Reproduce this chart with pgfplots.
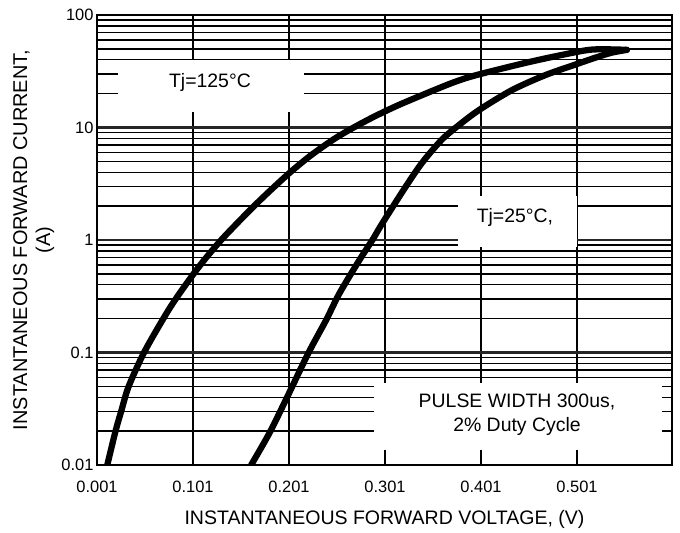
\documentclass[border=0pt]{standalone}
\usepackage{fontspec}
\setmainfont{Liberation Sans}
\usepackage{pgfplots}
\pgfplotsset{compat=1.18}

\begin{document}
\begin{tikzpicture}
  % page size: 680 x 533, axis box 575 x 450
  \path[use as bounding box] (-97bp,-68bp) rectangle (583bp,465bp);
  \begin{axis}[
    scale only axis,
    width=575bp, height=450bp,
    ymode=log,
    xmin=0.001, xmax=0.6,
    ymin=0.01, ymax=100,
    xtick={0.001,0.101,0.201,0.301,0.401,0.501},
    xticklabels={0.001,0.101,0.201,0.301,0.401,0.501},
    ytick={0.01,0.1,1,10,100},
    yticklabels={0.01,0.1,1,10,100},
    major tick length=0, minor tick length=0,
    xmajorgrids, ymajorgrids, yminorgrids,
    major grid style={black!85, line width=2.2pt},
    minor grid style={black, line width=1.4pt},
    x grid style={black, line width=1.6pt},
    axis line style={black, line width=2pt},
    ticklabel style={font=\fontsize{16.5}{19}\selectfont},
    xticklabel style={yshift=-12bp},
    every axis y label/.style={at={(axis description cs:-0.110,0.5)}, rotate=90, anchor=center,
      align=center, font=\fontsize{20}{23}\selectfont},
    every axis x label/.style={at={(axis description cs:0.5,-0.121)}, anchor=center,
      font=\fontsize{19.6}{22}\selectfont},
    xlabel={INSTANTANEOUS FORWARD VOLTAGE, (V)},
    ylabel={INSTANTANEOUS FORWARD CURRENT,\\(A)},
  ]
    % white label boxes over the grid
    \fill[white] (axis cs:0.0229,13.7) rectangle (axis cs:0.2166,39.8);
    \fill[white] (axis cs:0.377,0.867) rectangle (axis cs:0.501,2.46);
    \fill[white] (axis cs:0.2895,0.0136) rectangle (axis cs:0.5896,0.0536);

    \node[font=\fontsize{19.5}{23}\selectfont] at (axis cs:0.1187,24.9) {Tj=125°C};
    \node[font=\fontsize{19.5}{23}\selectfont] at (axis cs:0.4364,1.57) {Tj=25°C,};
    \node[font=\fontsize{19.5}{24}\selectfont, align=center] at (axis cs:0.4385,0.0278)
      {PULSE WIDTH 300us,\\2\% Duty Cycle};

    % Tj = 125 C
    \addplot[black, line width=6.3pt, line join=round, line cap=round, smooth] coordinates {
      (0.0117,0.01) (0.0203,0.02) (0.0262,0.03) (0.034,0.05) (0.050,0.1)
      (0.0701,0.2) (0.0831,0.3) (0.1016,0.5) (0.1149,0.7) (0.1304,1.0)
      (0.147,1.41) (0.1645,2.0) (0.1828,2.82) (0.202,3.98) (0.2234,5.62)
      (0.2484,7.94) (0.2684,10.0) (0.2906,12.6) (0.3150,15.8) (0.344,20.1)
      (0.372,25.1) (0.396,29.2) (0.446,37.3) (0.485,44.1) (0.517,49.3)
      (0.553,49.0)
    };

    % Tj = 25 C
    \addplot[black, line width=6.3pt, line join=round, line cap=round, smooth] coordinates {
      (0.1616,0.01) (0.181,0.0195) (0.199,0.04) (0.2215,0.1) (0.2398,0.195)
      (0.2536,0.336) (0.2744,0.664) (0.2879,1.0) (0.2983,1.41) (0.3226,2.98)
      (0.340,4.9) (0.360,7.76) (0.378,10.5) (0.399,14.3) (0.4333,21.5)
      (0.468,29.2) (0.4983,36.0) (0.520,41.7) (0.537,46.2) (0.553,49.0)
    };
  \end{axis}
\end{tikzpicture}
\end{document}
